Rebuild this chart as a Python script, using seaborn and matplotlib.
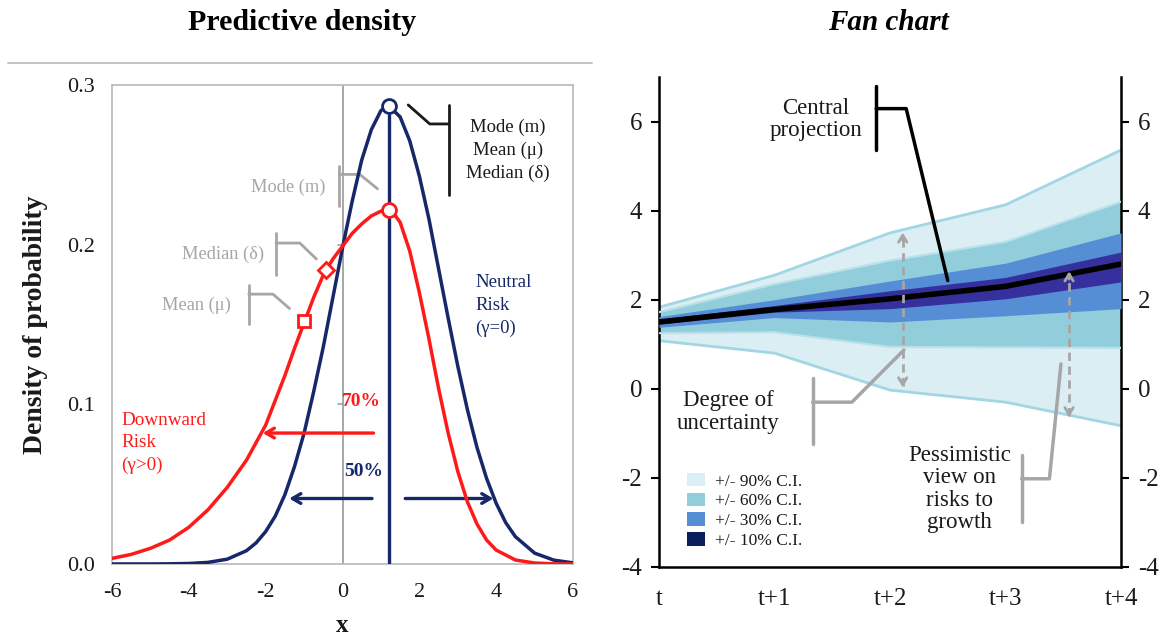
import numpy as np
import pandas as pd
import matplotlib
matplotlib.use("Agg")
import matplotlib.pyplot as plt
import seaborn as sns
from matplotlib.patches import Patch
from matplotlib.lines import Line2D

# ---------------- data: predictive density ----------------
blue_x = [-6, -5, -4.5, -4, -3.5, -3, -2.5, -2.25, -2, -1.75, -1.5, -1.25, -1, -0.75, -0.5, -0.25,
          0, 0.25, 0.5, 0.75, 1.0, 1.2, 1.5, 1.75, 2.0, 2.25, 2.5, 2.75, 3.0, 3.25, 3.5, 3.75,
          4.0, 4.25, 4.5, 5.0, 5.5, 6.0]
blue_y = [0.0, 0.0, 0.0001, 0.0003, 0.001, 0.003, 0.0083, 0.0132, 0.0203, 0.030, 0.0434, 0.061,
          0.082, 0.108, 0.136, 0.167, 0.198, 0.227, 0.253, 0.272, 0.284, 0.287, 0.280, 0.265,
          0.243, 0.216, 0.185, 0.154, 0.124, 0.0967, 0.073, 0.0536, 0.038, 0.0258, 0.0171,
          0.0068, 0.0024, 0.0007]
red_x = [-6, -5.5, -5, -4.5, -4, -3.5, -3, -2.5, -2, -1.5, -1.25, -1, -0.75, -0.5, -0.25, 0,
         0.25, 0.5, 0.75, 1.0, 1.2, 1.35, 1.5, 1.75, 2.0, 2.25, 2.5, 2.75, 3.0, 3.25, 3.5, 3.75,
         4.0, 4.5, 5.0, 5.5, 6.0]
red_y = [0.0035, 0.006, 0.0098, 0.015, 0.023, 0.034, 0.048, 0.065, 0.087, 0.118, 0.135, 0.151,
         0.167, 0.181, 0.191, 0.199, 0.207, 0.213, 0.218, 0.221, 0.222, 0.219, 0.214, 0.196,
         0.170, 0.141, 0.110, 0.082, 0.058, 0.039, 0.025, 0.015, 0.0087, 0.0025, 0.0006,
         0.0001, 0.0]
mode_x = 1.2
neutral_peak = 0.287
skew_mode_y = 0.222
skew_median = (-0.43, 0.184)
skew_mean = (-1.0, 0.152)
left_xticks = [-6, -4, -2, 0, 2, 4, 6]
left_xticklabels = ["-6", "-4", "-2", "0", "2", "4", "6"]
left_yticks = [0.0, 0.1, 0.2, 0.3]
left_yticklabels = ["0.0", "0.1", "0.2", "0.3"]

# ---------------- data: fan chart ----------------
periods = ["t", "t+1", "t+2", "t+3", "t+4"]
central = [1.5, 1.78, 2.02, 2.3, 2.8]
lo90 = [1.08, 0.8, -0.03, -0.3, -0.83]
hi90 = [1.83, 2.55, 3.5, 4.13, 5.36]
lo60 = [1.25, 1.27, 0.94, 0.93, 0.92]
hi60 = [1.72, 2.35, 2.88, 3.3, 4.2]
lo30 = [1.38, 1.6, 1.5, 1.64, 1.8]
hi30 = [1.62, 2.0, 2.42, 2.82, 3.5]
lo10 = [1.45, 1.72, 1.8, 2.02, 2.4]
hi10 = [1.56, 1.87, 2.2, 2.5, 3.07]
band_labels = ["+/- 90% C.I.", "+/- 60% C.I.", "+/- 30% C.I.", "+/- 10% C.I."]
right_yticks = [-4, -2, 0, 2, 4, 6]

# ---------------- style ----------------
sns.set_style("white")
plt.rcParams["font.family"] = ["Liberation Serif", "DejaVu Serif"]
plt.rcParams["mathtext.fontset"] = "stix"

RED = "#ff1a1a"
NAVY = "#16286a"
GRAY = "#a6a6a6"
DARK = "#1a1a1a"

fig = plt.figure(figsize=(11.68, 6.4), dpi=100)
axL = fig.add_axes([0.0959, 0.1188, 0.3947, 0.7484])
axR = fig.add_axes([0.5642, 0.1141, 0.3956, 0.7656])

# ================= left panel =================
axL.axvline(0, color="#a0a0a0", lw=1.3, zorder=1)
for yv in (0.1, 0.2):
    axL.plot([-0.13, 0], [yv, yv], color="#a0a0a0", lw=1.2, zorder=1)

df_b = pd.DataFrame({"x": blue_x, "y": blue_y})
df_r = pd.DataFrame({"x": red_x, "y": red_y})
sns.lineplot(data=df_b, x="x", y="y", ax=axL, color=NAVY, lw=2.5, zorder=3)
sns.lineplot(data=df_r, x="x", y="y", ax=axL, color=RED, lw=2.5, zorder=4)
axL.plot([mode_x, mode_x], [0, neutral_peak - 0.006], color=NAVY, lw=2.4, zorder=3)

axL.plot([mode_x], [neutral_peak], marker="o", ms=10, mfc="white", mec=NAVY, mew=2, zorder=6)
axL.plot([mode_x], [skew_mode_y], marker="o", ms=10, mfc="white", mec=RED, mew=2, zorder=6)
axL.plot([skew_median[0]], [skew_median[1]], marker="D", ms=8, mfc="white", mec=RED, mew=2, zorder=6)
axL.plot([skew_mean[0]], [skew_mean[1]], marker="s", ms=9, mfc="white", mec=RED, mew=2, zorder=6)

# black bracket (neutral)
axL.plot([1.71, 2.27, 2.77], [0.2875, 0.2756, 0.2756], color=DARK, lw=2, zorder=5)
axL.plot([2.77, 2.77], [0.2875, 0.231], color=DARK, lw=2, zorder=5)
axL.text(4.3, 0.259, "Mode (m)\nMean (μ)\nMedian (δ)", ha="center", va="center",
         fontsize=13.5, color=DARK, linespacing=1.4)

# gray brackets (skewed)
axL.plot([-0.08, -0.08], [0.249, 0.224], color=GRAY, lw=2)
axL.plot([-0.08, 0.45, 0.91], [0.244, 0.244, 0.235], color=GRAY, lw=2)
axL.text(-0.45, 0.236, "Mode (m)", ha="right", va="center", fontsize=13.2, color=GRAY)

axL.plot([-1.73, -1.73], [0.207, 0.181], color=GRAY, lw=2)
axL.plot([-1.73, -1.11, -0.68], [0.201, 0.201, 0.191], color=GRAY, lw=2)
axL.text(-2.05, 0.194, "Median (δ)", ha="right", va="center", fontsize=13.2, color=GRAY)

axL.plot([-2.44, -2.44], [0.175, 0.150], color=GRAY, lw=2)
axL.plot([-2.44, -1.81, -1.38], [0.169, 0.169, 0.160], color=GRAY, lw=2)
axL.text(-2.9, 0.162, "Mean (μ)", ha="right", va="center", fontsize=13.2, color=GRAY)

axL.text(3.45, 0.162, "Neutral\nRisk\n(γ=0)", ha="left", va="center", fontsize=13.5,
         color=NAVY, linespacing=1.45)
axL.text(-5.75, 0.076, "Downward\nRisk\n(γ>0)", ha="left", va="center", fontsize=13.8,
         color=RED, linespacing=1.4)
axL.text(0.5, 0.102, "70%", ha="center", va="center", fontsize=14, color=RED, fontweight="bold")
axL.text(0.55, 0.058, "50%", ha="center", va="center", fontsize=14, color=NAVY, fontweight="bold")

axL.annotate("", xy=(-2.15, 0.082), xytext=(0.88, 0.082),
             arrowprops=dict(arrowstyle="->,head_length=0.6,head_width=0.35", color=RED, lw=2.4))
axL.annotate("", xy=(-1.46, 0.041), xytext=(0.84, 0.041),
             arrowprops=dict(arrowstyle="->,head_length=0.6,head_width=0.35", color=NAVY, lw=2.4))
axL.annotate("", xy=(4.0, 0.041), xytext=(1.56, 0.041),
             arrowprops=dict(arrowstyle="->,head_length=0.6,head_width=0.35", color=NAVY, lw=2.4))

axL.set_xlim(-6, 6)
axL.set_ylim(0, 0.3)
axL.set_xticks(left_xticks)
axL.set_xticklabels(left_xticklabels)
axL.set_yticks(left_yticks)
axL.set_yticklabels(left_yticklabels)
axL.tick_params(axis="x", length=5, width=1, color="#b0b0b0", labelsize=16, pad=9, labelcolor=DARK)
axL.tick_params(axis="y", length=0, labelsize=16, pad=12, labelcolor=DARK)
for s in axL.spines.values():
    s.set_color("#b8b8b8")
    s.set_linewidth(1.2)
axL.set_xlabel("x", fontsize=18, fontweight="bold", labelpad=8, color=DARK)
axL.set_ylabel("Density of probability", fontsize=20, fontweight="bold", labelpad=14, color=DARK)

# ================= right panel =================
xs = list(range(len(periods)))
C90, C60, C30, C10 = "#daeef3", "#92cddc", "#558ed5", "#35309e"
axR.fill_between(xs, lo90, hi90, color=C90, lw=0, zorder=1)
axR.fill_between(xs, lo60, hi60, color=C60, lw=0, zorder=2)
axR.fill_between(xs, lo30, hi30, color=C30, lw=0, zorder=3)
axR.fill_between(xs, lo10, hi10, color=C10, lw=0, zorder=4)
for arr in (lo90, hi90):
    sns.lineplot(x=xs, y=arr, ax=axR, color="#a3d6e4", lw=2, zorder=2.5)
for arr in (lo60, hi60):
    sns.lineplot(x=xs, y=arr, ax=axR, color="#b9e1ea", lw=1.5, zorder=2.6)
sns.lineplot(x=xs, y=central, ax=axR, color="black", lw=4, zorder=6)

# dashed double arrows
def dashed_arrow(ax, x, y0, y1):
    ax.plot([x, x], [y0 + 0.1, y1 - 0.1], color=GRAY, lw=2, ls=(0, (3, 2)), zorder=7)
    for tip, frm in ((y1, y1 - 0.3), (y0, y0 + 0.3)):
        ax.annotate("", xy=(x, tip), xytext=(x, frm),
                    arrowprops=dict(arrowstyle="->,head_length=0.5,head_width=0.3",
                                    color=GRAY, lw=2), zorder=7)

dashed_arrow(axR, 2.11, -0.03, 3.57)
dashed_arrow(axR, 3.55, -0.7, 2.7)

# central projection bracket
axR.plot([1.88, 1.88], [6.8, 5.35], color="black", lw=2.5, zorder=8)
axR.plot([1.88, 2.14, 2.5], [6.29, 6.29, 2.43], color="black", lw=2.5, zorder=8)
axR.text(1.36, 6.05, "Central\nprojection", ha="center", va="center", fontsize=16.5,
         color=DARK, linespacing=1.1)

# degree of uncertainty bracket
axR.plot([1.33, 1.33], [0.25, -1.24], color=GRAY, lw=2.5, zorder=8)
axR.plot([1.33, 1.67, 2.12], [-0.3, -0.3, 0.87], color=GRAY, lw=2.5, zorder=8)
axR.text(0.6, -0.52, "Degree of\nuncertainty", ha="center", va="center", fontsize=16.5,
         color=DARK, linespacing=1.1)

# pessimistic bracket
axR.plot([3.14, 3.14], [-1.48, -2.99], color=GRAY, lw=2.5, zorder=8)
axR.plot([3.14, 3.38, 3.48], [-2.02, -2.02, 0.56], color=GRAY, lw=2.5, zorder=8)
axR.text(2.6, -2.25, "Pessimistic\nview on\nrisks to\ngrowth", ha="center", va="center",
         fontsize=16.5, color=DARK, linespacing=1.1)

handles = [Patch(facecolor=c, edgecolor="none") for c in (C90, C60, C30, "#0a1f5c")]
leg = axR.legend(handles, band_labels, loc="lower left", bbox_to_anchor=(0.035, 0.012),
                 frameon=False, fontsize=12.5, handlelength=1.0, handleheight=0.8,
                 handletextpad=0.6, labelspacing=0.18, borderpad=0.2)
for t in leg.get_texts():
    t.set_color(DARK)

axR.set_xlim(0, 4)
axR.set_ylim(-4, 7)
axR.set_xticks(xs)
axR.set_xticklabels(periods)
axR.set_yticks(right_yticks)
axR.set_yticklabels([str(v) for v in right_yticks])
axR.tick_params(axis="both", direction="out", length=6, width=1.5, color="black",
                labelsize=18, labelcolor=DARK)
axR.tick_params(axis="x", pad=9)
axR.tick_params(axis="y", left=True, right=True, labelleft=True, labelright=True, pad=6)
axR.spines["top"].set_visible(False)
for side in ("left", "right", "bottom"):
    axR.spines[side].set_color("black")
    axR.spines[side].set_linewidth(1.8)
axR.set_xlabel("")
axR.set_ylabel("")

# ================= titles and separator =================
fig.text(302 / 1168, 1 - 22 / 640, "Predictive density", ha="center", va="center",
         fontsize=21.5, fontweight="bold", color="black")
fig.text(888 / 1168, 1 - 22 / 640, "Fan chart", ha="center", va="center",
         fontsize=21, fontweight="bold", fontstyle="italic", color="black")
fig.add_artist(Line2D([8 / 1168, 592 / 1168], [1 - 63 / 640, 1 - 63 / 640],
                      color="#bdbdbd", lw=1.3))

fig.savefig("out.png", dpi=100)
